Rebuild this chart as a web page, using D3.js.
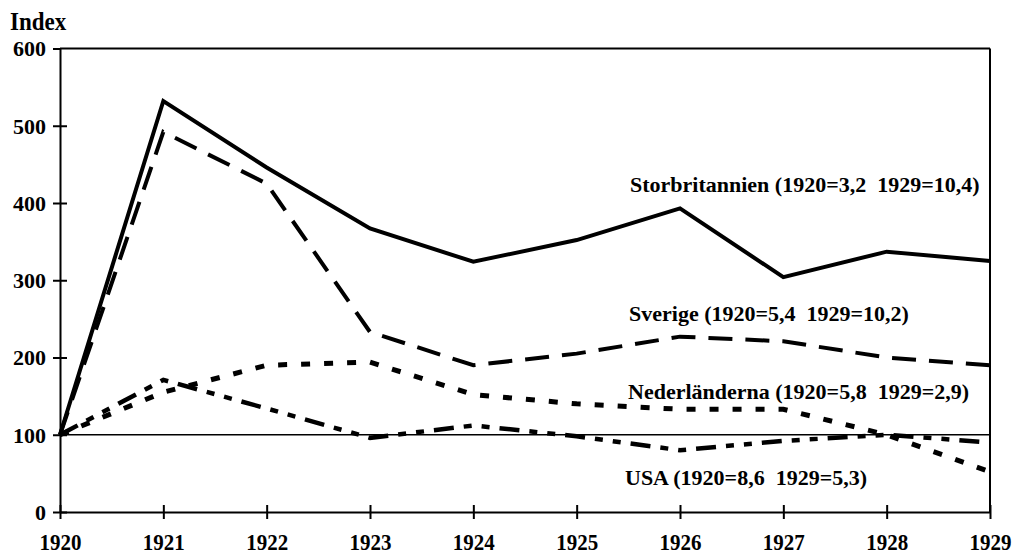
<!DOCTYPE html>
<html>
<head>
<meta charset="utf-8">
<style>
body{ margin:0; background:#fff; }
.axis path, .axis line{ stroke:#000; stroke-width:2px; }
.series{ fill:none; stroke:#000; stroke-linejoin:miter; }
</style>
</head>
<body>
<script src="https://cdn.jsdelivr.net/npm/d3@7"></script>
<script>
  var WIDTH = 1014;
  var HEIGHT = 556;
  var FONT = "'Liberation Serif', 'DejaVu Serif', 'Times New Roman', serif";

  var years = [1920, 1921, 1922, 1923, 1924, 1925, 1926, 1927, 1928, 1929];
  var yTicks = [0, 100, 200, 300, 400, 500, 600];

  var storbritannien = [100, 532, 446, 367, 324, 352, 393, 304, 337, 325];
  var sverige        = [100, 492, 425, 233, 190, 205, 227, 221, 200, 190];
  var nederlanderna  = [100, 155, 190, 194, 152, 140, 133, 133, 100, 52];
  var usa            = [100, 171, 134, 96, 112, 98, 80, 92, 100, 90];

  var labels = [
    "Storbritannien (1920=3,2\u00a0\u00a01929=10,4)",
    "Sverige (1920=5,4\u00a0\u00a01929=10,2)",
    "Nederländerna (1920=5,8\u00a0\u00a01929=2,9)",
    "USA (1920=8,6\u00a0\u00a01929=5,3)"
  ];

  var xScale = d3.scaleLinear().domain([1920, 1929]).range([60, 990]);
  var yScale = d3.scaleLinear().domain([0, 600]).range([512, 48.5]);

  var svg = d3.select("body").append("svg")
    .attr("width", WIDTH)
    .attr("height", HEIGHT);

  // frame: top + right
  svg.append("line")
    .attr("x1", xScale(1920)).attr("x2", xScale(1929))
    .attr("y1", yScale(600)).attr("y2", yScale(600))
    .attr("stroke", "#000").attr("stroke-width", 2);
  svg.append("line")
    .attr("x1", xScale(1929)).attr("x2", xScale(1929))
    .attr("y1", yScale(600)).attr("y2", yScale(0))
    .attr("stroke", "#000").attr("stroke-width", 2);

  // reference line at 100
  svg.append("line")
    .attr("x1", xScale(1920)).attr("x2", xScale(1929))
    .attr("y1", yScale(100)).attr("y2", yScale(100))
    .attr("stroke", "#000").attr("stroke-width", 1.6);

  var xAxis = svg.append("g")
    .attr("class", "axis")
    .attr("transform", `translate(0,${yScale(0)})`)
    .call(d3.axisBottom(xScale).tickValues(years).tickFormat(d3.format("d")).tickSize(7).tickSizeOuter(0));
  xAxis.selectAll(".tick line").attr("y1", -7).attr("y2", 7);
  xAxis.selectAll(".tick text")
    .attr("y", null).attr("dy", null)
    .attr("transform", "translate(0,38) scale(1,1.12)")
    .style("font-family", FONT).style("font-weight", "bold").style("fill", "#000")
    .style("font-size", "21px");

  var yAxis = svg.append("g")
    .attr("class", "axis")
    .attr("transform", `translate(${xScale(1920)},0)`)
    .call(d3.axisLeft(yScale).tickValues(yTicks).tickSize(7).tickSizeOuter(0));
  yAxis.selectAll(".tick line").attr("x1", -7).attr("x2", 7);
  yAxis.selectAll(".tick text")
    .attr("x", -14).attr("dy", "0.34em")
    .style("font-family", FONT).style("font-weight", "bold").style("fill", "#000")
    .style("font-size", "22px");
  yAxis.select(".tick:last-of-type line").attr("x2", 0);

  svg.append("text")
    .attr("transform", "translate(10,30) scale(1,1.1)")
    .style("font-family", FONT).style("font-weight", "bold")
    .style("font-size", "23px")
    .text("Index");

  var series = [
    {values: storbritannien, dash: null, width: 4},
    {values: sverige, dash: "24,13", width: 4},
    {values: nederlanderna, dash: "9,14", width: 5},
    {values: usa, dash: "20,10,8,10,8,10", width: 4.5}
  ];

  var line = d3.line()
    .x((d, i) => xScale(years[i]))
    .y(d => yScale(d));

  svg.selectAll("path.series")
    .data(series)
    .enter()
    .append("path")
      .attr("class", "series")
      .attr("d", d => line(d.values))
      .attr("stroke-width", d => d.width)
      .attr("stroke-dasharray", d => d.dash);

  var labelPos = [[630, 192], [629, 321], [628, 399], [625, 485]];
  svg.selectAll("text.label")
    .data(labels)
    .enter()
    .append("text")
      .attr("class", "label")
      .attr("x", (d, i) => labelPos[i][0])
      .attr("y", (d, i) => labelPos[i][1])
      .style("font-family", FONT).style("font-weight", "bold")
      .style("font-size", "22px")
      .text(d => d);
</script>
</body>
</html>
